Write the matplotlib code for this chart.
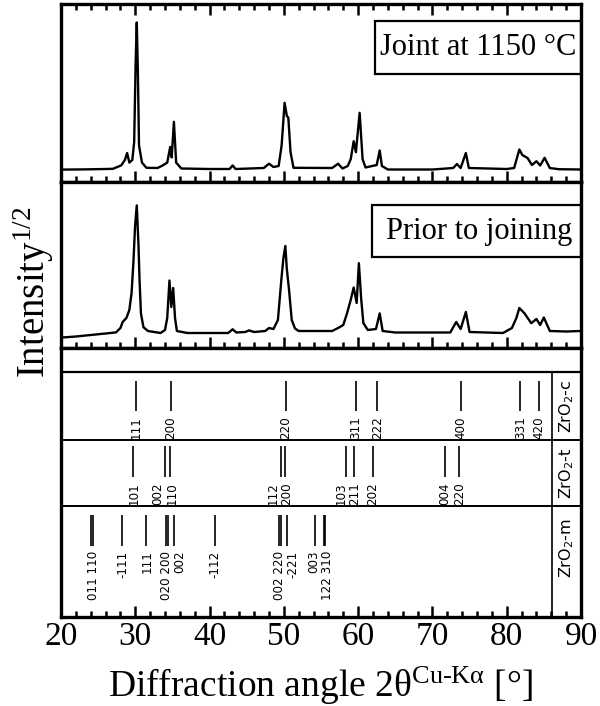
import matplotlib
matplotlib.use('Agg')
import matplotlib.pyplot as plt
from matplotlib.ticker import MultipleLocator
from matplotlib.patches import Rectangle

plt.rcParams['mathtext.fontset'] = 'custom'
plt.rcParams['mathtext.rm'] = 'Liberation Serif'
plt.rcParams['mathtext.it'] = 'Liberation Serif:italic'
plt.rcParams['mathtext.sf'] = 'DejaVu Sans'

# ---------------- data ----------------
# Joint at 1150 °C  (2theta [deg], sqrt intensity [a.u.])
tt_joint = [20.0, 23.0, 26.0, 27.0, 28.1, 28.6, 28.9, 29.2, 29.6, 29.85, 30.05, 30.2, 30.35,
            30.5, 30.9, 31.5, 33.0, 33.7, 34.3, 34.7, 34.9, 35.2, 35.5, 36.2, 40.0, 42.7,
            43.1, 43.5, 47.3, 48.0, 48.6, 49.3, 49.7, 50.1, 50.4, 50.6, 50.9, 51.3, 56.5,
            57.3, 57.9, 58.6, 59.0, 59.4, 59.7, 60.2, 60.6, 61.0, 62.5, 62.9, 63.2, 64.0,
            70.0, 72.8, 73.3, 73.8, 74.5, 74.9, 80.0, 81.0, 81.7, 82.1, 82.8, 83.4, 84.0,
            84.5, 85.1, 85.8, 87.0, 90.0]
int_joint = [12.4, 12.6, 13.0, 13.2, 16.6, 22.0, 29.0, 19.4, 22.0, 40.0, 120.0, 159.5, 110.0,
             36.7, 19.4, 14.2, 14.0, 16.6, 19.4, 35.0, 24.6, 60.2, 19.4, 13.5, 13.0, 13.0,
             16.6, 13.0, 14.0, 18.3, 15.0, 16.0, 36.7, 79.2, 66.0, 64.4, 29.8, 14.2, 14.0,
             18.3, 13.5, 16.0, 22.8, 40.8, 29.8, 69.2, 22.8, 14.5, 17.0, 31.5, 16.0, 12.5,
             12.5, 14.0, 18.0, 14.0, 29.0, 14.0, 13.0, 14.0, 32.5, 27.0, 24.0, 17.0, 20.8,
             16.5, 24.2, 14.0, 12.8, 12.5]

# Prior to joining
tt_prior = [20.0, 22.0, 24.0, 26.0, 27.4, 28.0, 28.3, 28.8, 29.2, 29.5, 29.75, 29.97, 30.2,
            30.43, 30.57, 30.76, 31.1, 31.7, 33.4, 34.0, 34.3, 34.6, 34.85, 35.1, 35.35,
            35.6, 37.0, 42.5, 43.1, 43.6, 44.8, 45.3, 46.0, 47.5, 48.0, 48.6, 49.2, 49.67,
            49.94, 50.2, 50.4, 50.7, 51.06, 51.5, 52.0, 53.8, 56.5, 57.3, 58.0, 58.5, 59.0,
            59.4, 59.8, 60.1, 60.4, 60.7, 61.3, 62.4, 62.9, 63.3, 65.0, 72.4, 73.2, 73.8,
            74.5, 75.0, 79.5, 80.7, 81.3, 81.7, 82.4, 83.3, 84.0, 84.5, 85.0, 85.8, 88.0,
            90.0]
int_prior = [10.4, 11.5, 13.0, 14.5, 15.6, 20.0, 26.0, 30.0, 38.0, 55.0, 86.0, 122.0, 142.6,
             103.0, 69.0, 34.6, 20.8, 17.0, 15.0, 18.0, 30.0, 67.5, 41.0, 60.0, 30.0,
             17.0, 15.0, 15.0, 18.7, 15.5, 16.0, 17.6, 16.0, 17.0, 20.0, 19.0, 28.0, 69.0,
             90.0, 102.0, 79.0, 58.0, 28.0, 19.5, 17.0, 17.0, 17.0, 20.0, 23.0, 34.6, 48.0,
             60.5, 45.0, 84.8, 50.0, 25.0, 18.0, 19.0, 34.6, 17.0, 15.5, 15.5, 26.0, 19.0,
             36.0, 16.0, 15.0, 20.0, 30.0, 40.0, 34.6, 24.8, 29.0, 23.0, 30.5, 17.0, 16.5,
             17.0]

# reference reflections: line positions
c_pos = [30.1, 34.8, 50.3, 59.7, 62.6, 73.8, 81.8, 84.35]
c_hkl = ['111', '200', '220', '311', '222', '400', '331', '420']

t_pos = [29.74, 34.05, 34.74, 49.55, 50.14, 58.35, 59.42, 61.95, 71.7, 73.6]
t_labels = ['101', '002\n110', '112\n200', '103\n211', '202', '004', '220']
t_label_x = [29.87, 34.02, 49.49, 58.64, 61.96, 71.6, 73.69]

m_pos = [24.03, 24.36, 28.2, 31.5, 34.14, 34.37, 35.16, 40.77, 49.3, 49.67, 50.4, 54.2, 55.37, 55.56]
m_labels = ['011 110', '-111', '111', '020 200\n002', '-112', '002 220\n-221', '003\n122 310']
m_label_x = [24.4, 28.35, 31.6, 35.1, 40.77, 50.33, 54.9]

phase_names = ['ZrO$_\\mathsf{2}$-c', 'ZrO$_\\mathsf{2}$-t', 'ZrO$_\\mathsf{2}$-m']
panel_titles = ['Joint at 1150 °C', 'Prior to joining']
x_ticks = [20, 30, 40, 50, 60, 70, 80, 90]
x_ticklabels = ['20', '30', '40', '50', '60', '70', '80', '90']

# ---------------- layout ----------------
W, H = 600, 706
fig = plt.figure(figsize=(W / 100, H / 100), dpi=100)
SERIF = 'Liberation Serif'
SANS = 'DejaVu Sans'
FRAME_LW = 2.4
HKL_FS = 8.6
HKL_LS = 1.08


def add_ax(x0, y0, x1, y1):
    return fig.add_axes([x0 / W, 1 - y1 / H, (x1 - x0) / W, (y1 - y0) / H])


ax1 = add_ax(61, 4, 581, 182)
ax2 = add_ax(61, 182, 581, 348)
ax3 = add_ax(61, 348, 581, 617)

for ax in (ax1, ax2, ax3):
    ax.set_xlim(20, 90)
    ax.xaxis.set_major_locator(MultipleLocator(10))
    ax.xaxis.set_minor_locator(MultipleLocator(2))
    ax.set_yticks([])
    for s in ax.spines.values():
        s.set_linewidth(FRAME_LW)
    ax.tick_params(axis='x', which='major', direction='in', length=8, width=1.8)
    ax.tick_params(axis='x', which='minor', direction='in', length=4.5, width=1.8)

ax1.tick_params(axis='x', which='both', top=True, bottom=True, labelbottom=False)
ax2.tick_params(axis='x', which='both', top=False, bottom=True, labelbottom=False)
ax3.tick_params(axis='x', which='both', top=False, bottom=True, pad=3)
ax3.set_xticks(x_ticks)
ax3.set_xticklabels(x_ticklabels, fontsize=24, fontfamily=SERIF)

# spectra
ax1.plot(tt_joint, int_joint, color='k', lw=1.7)
ax1.set_ylim(0, 178)
ax2.plot(tt_prior, int_prior, color='k', lw=1.7)
ax2.set_ylim(0, 166)

# title boxes
ax1.add_patch(Rectangle((0.604, 0.6045), 0.396, 0.2975, transform=ax1.transAxes,
                        fill=False, lw=1.6, ec='k'))
ax1.text(0.802, 0.753, panel_titles[0], transform=ax1.transAxes, ha='center', va='center',
         fontsize=22, family=SERIF)
ax2.add_patch(Rectangle((0.598, 0.546), 0.402, 0.313, transform=ax2.transAxes,
                        fill=False, lw=1.6, ec='k'))
ax2.text(0.804, 0.702, panel_titles[1], transform=ax2.transAxes, ha='center', va='center',
         fontsize=22, family=SERIF)

# reference-line panel (y in pixels from top of this axes)
ax3.set_ylim(269, 0)
ax3.axhline(24, color='k', lw=1.6)
ax3.axhline(92, color='k', lw=1.4)
ax3.axhline(158, color='k', lw=1.4)
ax3.vlines(86.1, 24, 269, color='k', lw=1.2)


def hkl_text(x, y, s):
    ax3.text(x, y, s, rotation=90, ha='center', va='top', multialignment='right',
             linespacing=HKL_LS, fontsize=HKL_FS, family=SANS)


ax3.vlines(c_pos, 32.5, 63, color='k', lw=1.2)
for x, lab in zip(c_pos, c_hkl):
    hkl_text(x, 68.0, lab)

ax3.vlines(t_pos, 97.6, 128.7, color='k', lw=1.2)
for x, lab in zip(t_label_x, t_labels):
    hkl_text(x, 134.0, lab)

ax3.vlines(m_pos, 166.8, 198, color='k', lw=1.2)
for x, lab in zip(m_label_x, m_labels):
    hkl_text(x, 202.5, lab)

for yc, name in zip([58, 125, 200], phase_names):
    ax3.text(88.03, yc, name, rotation=90, ha='center', va='center', fontsize=11.5, family=SANS)

# axis labels
fig.text(56 / W, 1 - 292 / H, 'Intensity$^{\\mathrm{1/2}}$', rotation=90, ha='right',
         va='center', fontsize=28, family=SERIF)
fig.text(321 / W, 9 / H, 'Diffraction angle 2θ$^{\\mathrm{Cu}\\text{-}\\mathrm{K}\\mathrm{α}}$ [°]',
         ha='center', va='baseline', fontsize=27, family=SERIF)

fig.savefig('out.png', dpi=100)
